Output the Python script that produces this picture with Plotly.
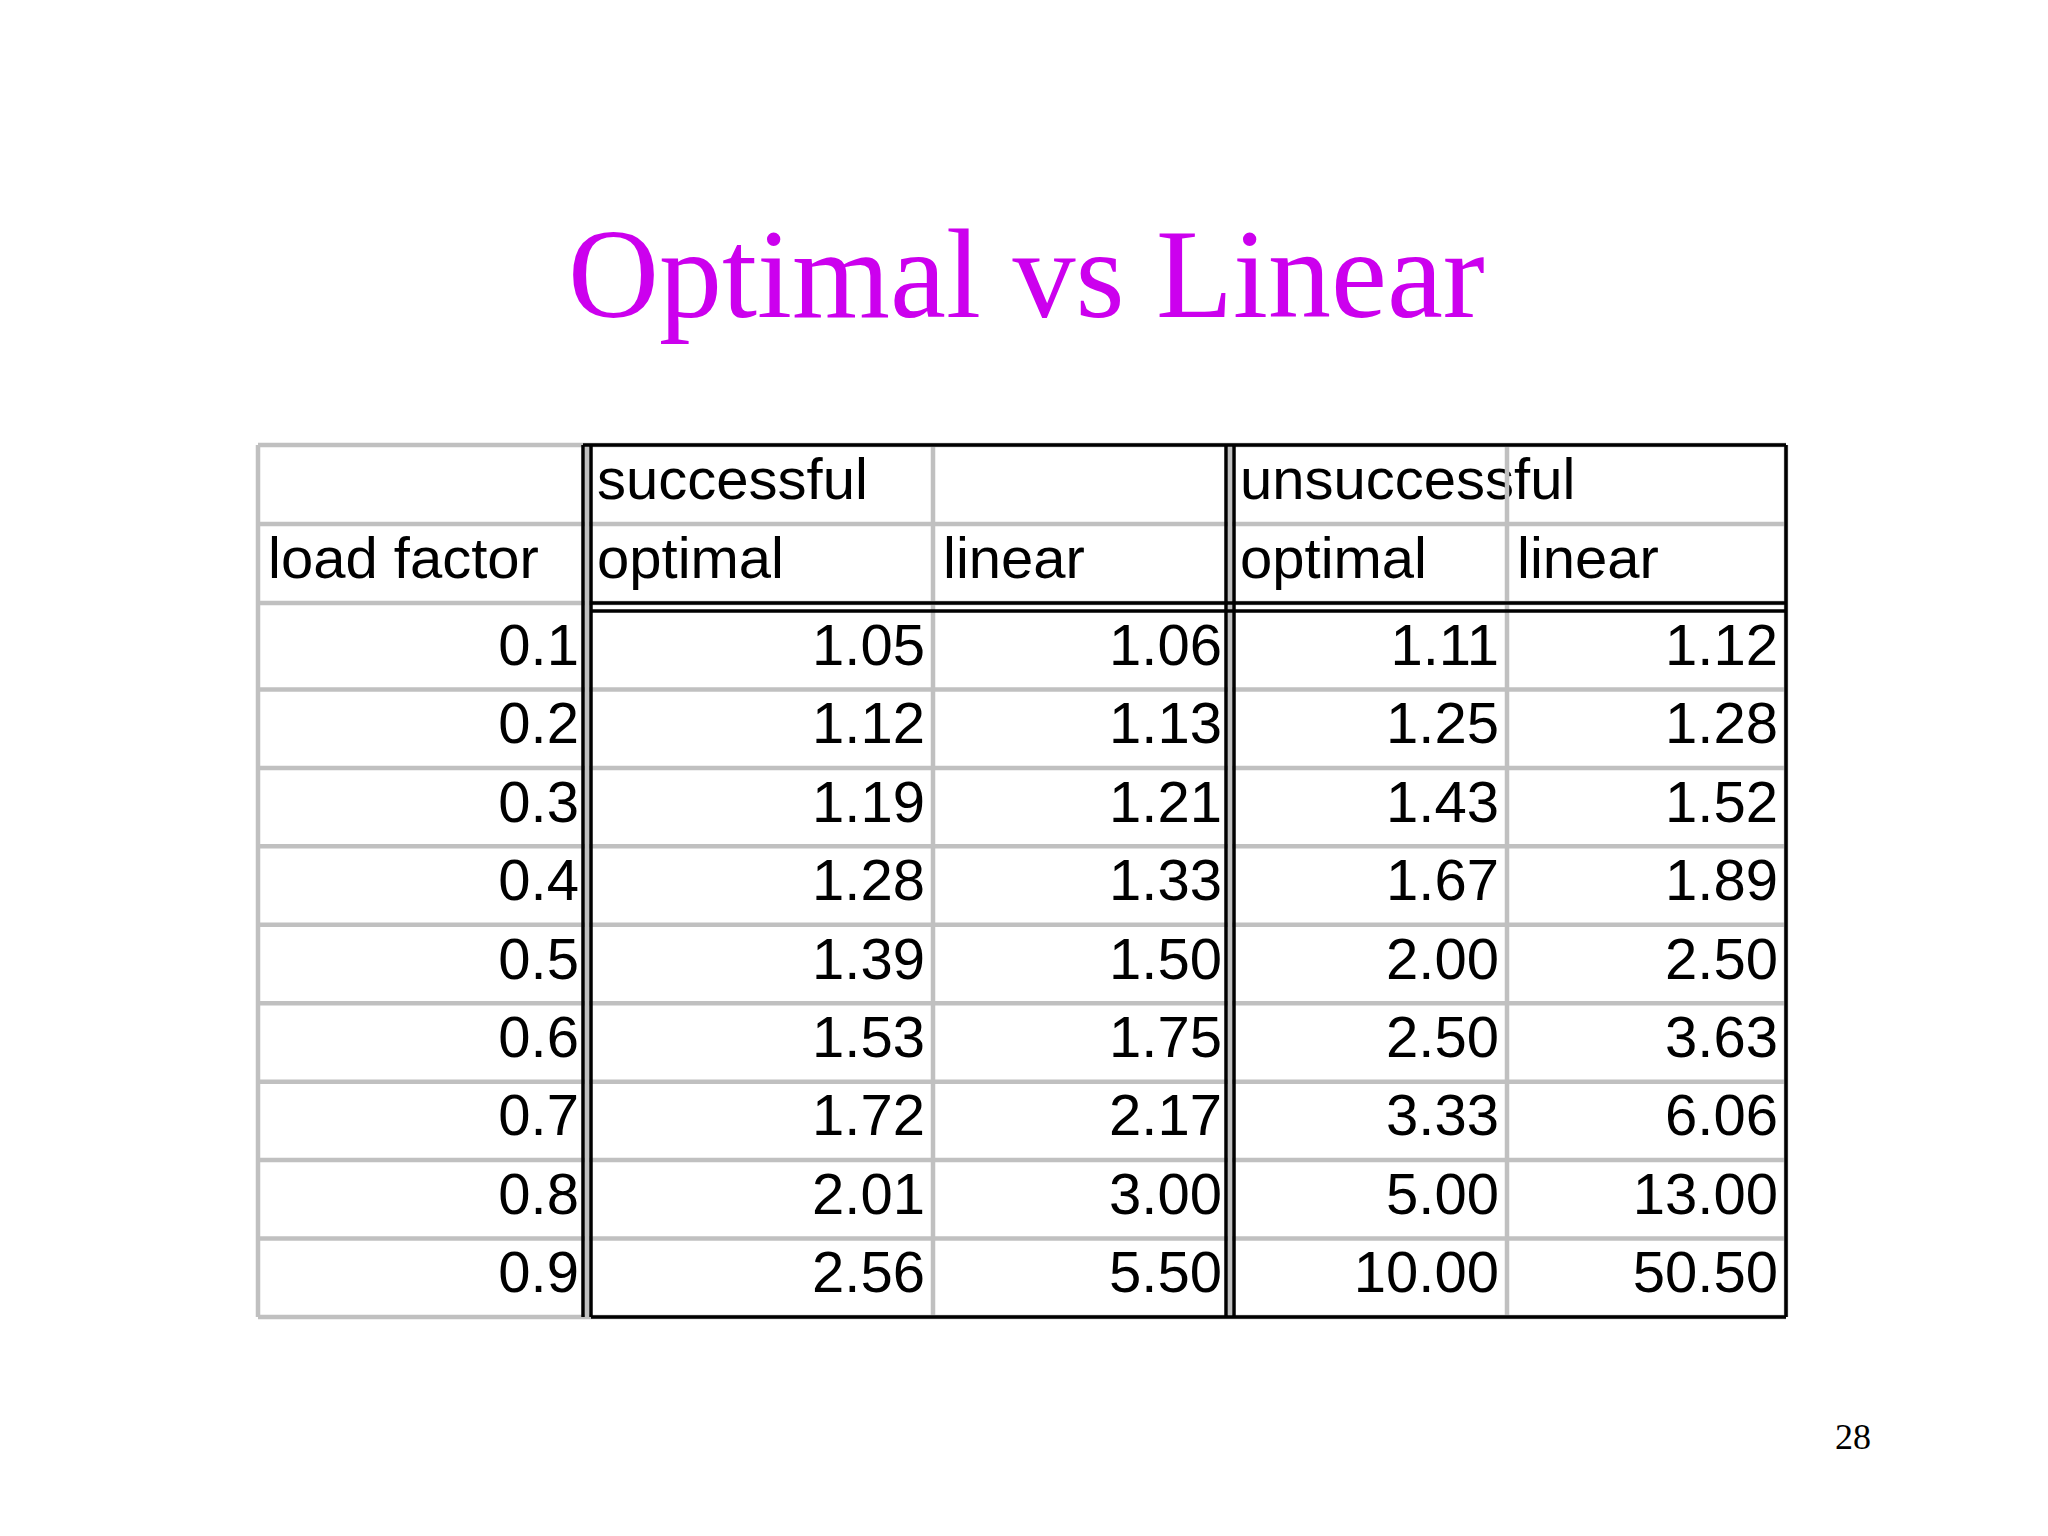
import plotly.graph_objects as go

load_factor = ["0.1","0.2","0.3","0.4","0.5","0.6","0.7","0.8","0.9"]
succ_optimal = ["1.05","1.12","1.19","1.28","1.39","1.53","1.72","2.01","2.56"]
succ_linear = ["1.06","1.13","1.21","1.33","1.50","1.75","2.17","3.00","5.50"]
unsucc_optimal = ["1.11","1.25","1.43","1.67","2.00","2.50","3.33","5.00","10.00"]
unsucc_linear = ["1.12","1.28","1.52","1.89","2.50","3.63","6.06","13.00","50.50"]
header1 = ["", "successful", "", "unsuccessful", ""]
header2 = ["load factor", "optimal", "linear", "optimal", "linear"]

cols = [load_factor, succ_optimal, succ_linear, unsucc_optimal, unsucc_linear]
xb = [250, 579, 925, 1222, 1499, 1778]
top, h1b, h2b, dstart, bottom = 437, 516, 595, 603, 1309
rh = (bottom - dstart) / 9
data_bounds = [dstart + i * rh for i in range(10)]

fig = go.Figure()
gray = "#c0c0c0"
shapes = []
def line(x0, y0, x1, y1, c, w):
    shapes.append(dict(type="line", x0=x0, y0=y0, x1=x1, y1=y1, line=dict(color=c, width=w), layer="above"))

# gray grid
for y in [top, h1b, h2b] + data_bounds[1:]:
    line(xb[0], y, xb[5], y, gray, 4.5)
for x in xb:
    line(x, top, x, bottom, gray, 4.5)
# black emphasis
for x in [xb[1] - 4, xb[1] + 4, xb[3] - 4, xb[3] + 4, xb[5]]:
    line(x, top, x, bottom, "black", 3.5)
line(xb[1] - 4, top, xb[5], top, "black", 3.5)
line(xb[1] + 4, h2b, xb[5], h2b, "black", 3.5)
line(xb[1] + 4, dstart, xb[5], dstart, "black", 3.5)
line(xb[1] + 4, bottom, xb[5], bottom, "black", 3.5)

font = dict(family="Liberation Sans, Arial", size=58, color="black")
for hdr, yc in [(header1, (top + h1b) / 2), (header2, (h1b + h2b) / 2)]:
    fig.add_trace(go.Scatter(x=[xb[i] + 10 for i in range(5)], y=[yc] * 5, text=hdr, mode="text",
                             textposition="middle right", textfont=font, hoverinfo="skip"))
for i, col in enumerate(cols):
    ys = [(data_bounds[j] + data_bounds[j + 1]) / 2 for j in range(9)]
    fig.add_trace(go.Scatter(x=[xb[i + 1] - 8] * 9, y=ys, text=col, mode="text",
                             textposition="middle left", textfont=font, hoverinfo="skip"))

fig.add_annotation(x=1018, y=266, text="Optimal vs Linear", showarrow=False,
                   font=dict(family="Liberation Serif, Times New Roman", size=126, color="#cc00ee"))
fig.add_annotation(x=1845, y=1429, text="28", showarrow=False,
                   font=dict(family="Liberation Serif, Times New Roman", size=36, color="black"))

fig.update_layout(width=2048, height=1536, margin=dict(l=0, r=0, t=0, b=0), showlegend=False,
                  plot_bgcolor="white", paper_bgcolor="white", shapes=shapes,
                  xaxis=dict(range=[0, 2048], visible=False),
                  yaxis=dict(range=[1536, 0], visible=False))
fig.write_html("out.html")
